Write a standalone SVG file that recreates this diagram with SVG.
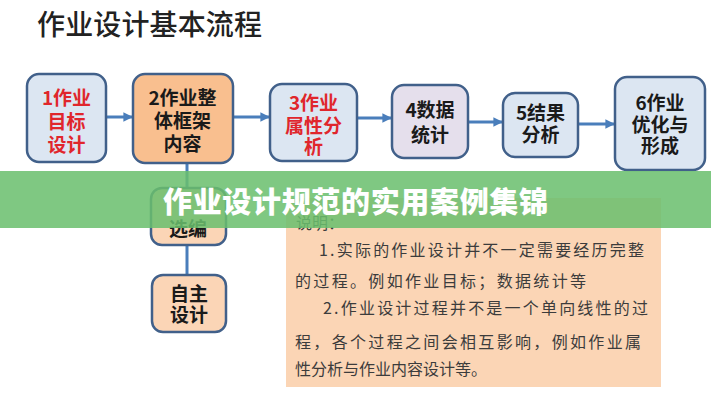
<svg xmlns="http://www.w3.org/2000/svg" width="711" height="400" viewBox="0 0 711 400">
<style>
.t{font-family:"Noto Sans CJK SC","Noto Sans",sans-serif}
.n{stroke:#41608a;stroke-width:2.5}
.nt{font-family:"Noto Sans CJK SC","Noto Sans",sans-serif;font-size:19px;font-weight:bold;text-anchor:middle;fill:#1a1a1a}
.red{fill:#e0262c}
.bt{font-family:"Noto Sans CJK SC","Noto Sans",sans-serif;font-size:16px;fill:#3c3c3c}
.c{stroke:#4a7ebb;stroke-width:3;fill:none}
</style>
<defs>
<marker id="ah" viewBox="0 0 10 10" refX="9" refY="5" markerWidth="3.2" markerHeight="3.2" orient="auto" markerUnits="strokeWidth">
<path d="M0,0 L10,5 L0,10 z" fill="#4a7ebb"/>
</marker>
</defs>
<rect width="711" height="400" fill="#ffffff"/>
<text class="t" x="37" y="35" font-size="28" font-weight="500" fill="#222" textLength="225">作业设计基本流程</text>

<g id="connectors">
<line class="c" x1="106" y1="117" x2="132" y2="117" marker-end="url(#ah)"/>
<line class="c" x1="233" y1="117" x2="269" y2="117" marker-end="url(#ah)"/>
<line class="c" x1="357" y1="118" x2="391" y2="118" marker-end="url(#ah)"/>
<line class="c" x1="468" y1="122" x2="502" y2="122" marker-end="url(#ah)"/>
<line class="c" x1="578" y1="124" x2="614" y2="124" marker-end="url(#ah)"/>
<line class="c" x1="187" y1="163" x2="187" y2="188"/>
<line class="c" x1="187" y1="245" x2="187" y2="275"/>
</g>

<g id="n1">
<rect class="n" x="27" y="74" width="79" height="88" rx="12" fill="#dce6f2"/>
<text class="nt red" x="66.5" y="105">1作业</text>
<text class="nt red" x="66.5" y="129">目标</text>
<text class="nt red" x="66.5" y="152">设计</text>
</g>
<g id="n2">
<rect class="n" x="133" y="74" width="100" height="89" rx="12" fill="#f9bf8f"/>
<text class="nt" x="182.5" y="105">2作业整</text>
<text class="nt" x="182.5" y="128">体框架</text>
<text class="nt" x="182.5" y="151">内容</text>
</g>
<g id="n3">
<rect class="n" x="270" y="84" width="87" height="77" rx="12" fill="#dce6f2"/>
<text class="nt red" x="313.5" y="110">3作业</text>
<text class="nt red" x="313.5" y="133">属性分</text>
<text class="nt red" x="313.5" y="154">析</text>
</g>
<g id="n4">
<rect class="n" x="392" y="85" width="76" height="73" rx="12" fill="#e5dfec"/>
<text class="nt" x="430" y="117">4数据</text>
<text class="nt" x="430" y="142">统计</text>
</g>
<g id="n5">
<rect class="n" x="503" y="93" width="75" height="64" rx="12" fill="#dce6f2"/>
<text class="nt" x="540.5" y="120">5结果</text>
<text class="nt" x="540.5" y="142">分析</text>
</g>
<g id="n6">
<rect class="n" x="615" y="77" width="90" height="93" rx="12" fill="#dce6f2"/>
<text class="nt" x="660" y="110">6作业</text>
<text class="nt" x="660" y="132">优化与</text>
<text class="nt" x="660" y="153">形成</text>
</g>
<g id="n7">
<rect class="n" x="151" y="188" width="75" height="57" rx="11" fill="#fbd5b6"/>
<text class="nt" x="188" y="236" font-weight="normal">选编</text>
</g>
<g id="n8">
<rect class="n" x="152" y="275" width="74" height="57" rx="11" fill="#fbd5b6"/>
<text class="nt" x="189" y="301" font-size="18" font-weight="500">自主</text>
<text class="nt" x="189" y="322" font-size="18" font-weight="500">设计</text>
</g>

<g id="note">
<rect x="286" y="198" width="375" height="189" fill="#fbd5b5"/>
<text class="bt" x="296" y="229">说明：</text>
<text class="bt" x="319" y="256" textLength="325" lengthAdjust="spacing">1.实际的作业设计并不一定需要经历完整</text>
<text class="bt" x="295" y="287" textLength="291" lengthAdjust="spacing">的过程。例如作业目标；数据统计等</text>
<text class="bt" x="323" y="314" textLength="325" lengthAdjust="spacing">2.作业设计过程并不是一个单向线性的过</text>
<text class="bt" x="295" y="348" textLength="346" lengthAdjust="spacing">程，各个过程之间会相互影响，例如作业属</text>
<text class="bt" x="295" y="375">性分析与作业内容设计等。</text>
</g>

<g id="banner">
<rect x="0" y="171" width="711" height="57" fill="#6abf6e" opacity="0.86"/>
<text class="t" x="163" y="213" font-size="29" font-weight="900" fill="#ffffff" textLength="385" lengthAdjust="spacing">作业设计规范的实用案例集锦</text>
</g>
</svg>
